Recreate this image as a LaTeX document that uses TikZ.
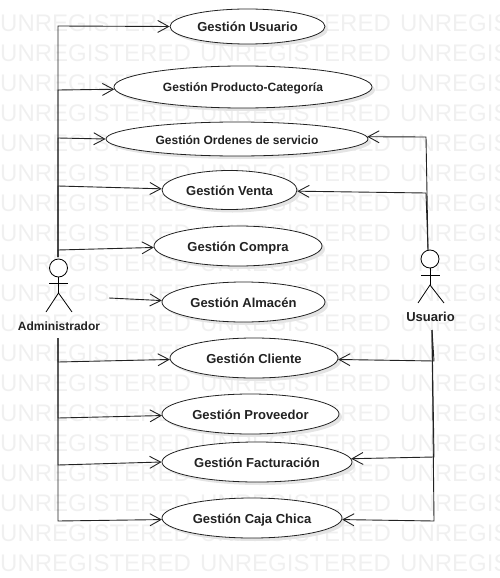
\documentclass[tikz,border=0pt]{standalone}
\usepackage{fontspec}
\setmainfont{Liberation Sans}
\usetikzlibrary{shapes.geometric,arrows.meta,shadows}
\definecolor{wm}{HTML}{F0F0F0}
\definecolor{shade}{HTML}{E4E4E4}
\definecolor{ink}{HTML}{222222}
\tikzset{
  usecase/.style={ellipse,draw=ink,line width=.8pt,fill=white,inner sep=0pt,
    text height=10pt,text depth=0pt,
    font=\fontsize{13}{15}\bfseries\selectfont,text=ink,
    drop shadow={shadow xshift=3pt,shadow yshift=-3pt,fill=shade,opacity=1}},
  usesmall/.style={usecase,font=\fontsize{12}{14}\bfseries\selectfont},
  assoc/.style={draw=ink,line width=.9pt,-{Straight Barb[length=11pt,width=12pt]}},
  limb/.style={draw=black,line width=.8pt},
  head/.style={circle,draw=black,line width=.8pt,fill=white,minimum size=18pt,inner sep=0pt},
  actorlabel/.style={font=\fontsize{12}{14}\bfseries\selectfont,text=ink,inner sep=0pt},
  actorlabelbig/.style={actorlabel,font=\fontsize{13}{15}\bfseries\selectfont},
  watermark/.style={text=wm,font=\fontsize{24}{26}\selectfont,inner sep=0pt,anchor=west}
}
\begin{document}
\begin{tikzpicture}[x=1pt,y=-1pt]
\useasboundingbox (0,0) rectangle (499,578);
\begin{scope}
\clip (0,0) rectangle (499,578);
\foreach \r in {0,...,18}{
  \foreach \c in {0,1,2}{
    \node[watermark] (wm-\r-\c) at ({200*\c},{23+30*\r}) {UNREGISTERED};
  }
}
\end{scope}
% use cases
\node[usecase,minimum width=155pt,minimum height=35pt] (uUsuario) at (247.5,26.5) {Gestión Usuario};
\node[usesmall,minimum width=258pt,minimum height=42pt] (uProducto) at (243,87) {Gestión Producto-Categoría};
\node[usesmall,minimum width=262pt,minimum height=34pt] (uOrdenes) at (237,139) {Gestión Ordenes de servicio};
\node[usecase,minimum width=135pt,minimum height=39pt] (uVenta) at (229.5,190) {Gestión Venta};
\node[usecase,minimum width=168pt,minimum height=40pt] (uCompra) at (238,246) {Gestión Compra};
\node[usecase,minimum width=163pt,minimum height=40pt] (uAlmacen) at (243.5,302) {Gestión Almacén};
\node[usecase,minimum width=168pt,minimum height=40pt] (uCliente) at (254,358) {Gestión Cliente};
\node[usecase,minimum width=177pt,minimum height=40pt] (uProveedor) at (250.5,414) {Gestión Proveedor};
\node[usecase,minimum width=190pt,minimum height=40pt] (uFacturacion) at (257,462) {Gestión Facturación};
\node[usecase,minimum width=180pt,minimum height=40pt] (uCaja) at (252,518) {Gestión Caja Chica};
% actors
\node[head] (aHead) at (58.5,268) {};
\node[actorlabel] (aLabel) at (59,326) {Administrador};
\coordinate (aHip) at (58.5,293);
\coordinate (aArmL) at (49,283);
\coordinate (aArmR) at (68,283);
\coordinate (aFootL) at (46,312);
\coordinate (aFootR) at (72,312);
\draw[limb] (aHead.south) -- (aHip);
\draw[limb] (aArmL) -- (aArmR);
\draw[limb] (aFootL) -- (aHip) -- (aFootR);
\node[head] (bHead) at (430,259) {};
\node[actorlabelbig] (bLabel) at (430.5,316.5) {Usuario};
\coordinate (bHip) at (430,285);
\coordinate (bArmL) at (421,275);
\coordinate (bArmR) at (440,275);
\coordinate (bFootL) at (418,303);
\coordinate (bFootR) at (444,303);
\draw[limb] (bHead.south) -- (bHip);
\draw[limb] (bArmL) -- (bArmR);
\draw[limb] (bFootL) -- (bHip) -- (bFootR);
% waypoints
\coordinate (aTop) at (58,257);
\coordinate (aBot) at (58,338);
\coordinate (aSide) at (109,298);
\coordinate (bTop) at (428,250);
\coordinate (bBot) at (432,330);
\coordinate (w1) at (58,26);
\coordinate (w2) at (58,90);
\coordinate (w3) at (58,138);
\coordinate (w4) at (58,186);
\coordinate (w5) at (58,250);
\coordinate (w7) at (58,362);
\coordinate (w8) at (58,418);
\coordinate (w9) at (58,465);
\coordinate (w10) at (58,521);
\coordinate (r3) at (426,137);
\coordinate (r4) at (426,193);
\coordinate (r7) at (434,361);
\coordinate (r9) at (434,457);
\coordinate (r10) at (434,521);
% administrator connectors
\draw[assoc] (aTop) -- (w1) -- (uUsuario.west);
\draw[assoc] (aTop) -- (w2) -- (uProducto.181);
\draw[assoc] (aTop) -- (w3) -- (uOrdenes.west);
\draw[assoc] (aTop) -- (w4) -- (uVenta.179);
\draw[assoc] (aTop) -- (w5) -- (uCompra.181);
\draw[assoc] (aSide) -- (uAlmacen.179);
\draw[assoc] (aBot) -- (w7) -- (uCliente.181);
\draw[assoc] (aBot) -- (w8) -- (uProveedor.181);
\draw[assoc] (aBot) -- (w9) -- (uFacturacion.west);
\draw[assoc] (aBot) -- (w10) -- (uCaja.181);
% user connectors
\draw[assoc] (bTop) -- (r3) -- (uOrdenes.1);
\draw[assoc] (bTop) -- (r4) -- (uVenta.-1);
\draw[assoc] (bBot) -- (r7) -- (uCliente.-1);
\draw[assoc] (bBot) -- (r9) -- (uFacturacion.2);
\draw[assoc] (bBot) -- (r10) -- (uCaja.-1);
\end{tikzpicture}
\end{document}
